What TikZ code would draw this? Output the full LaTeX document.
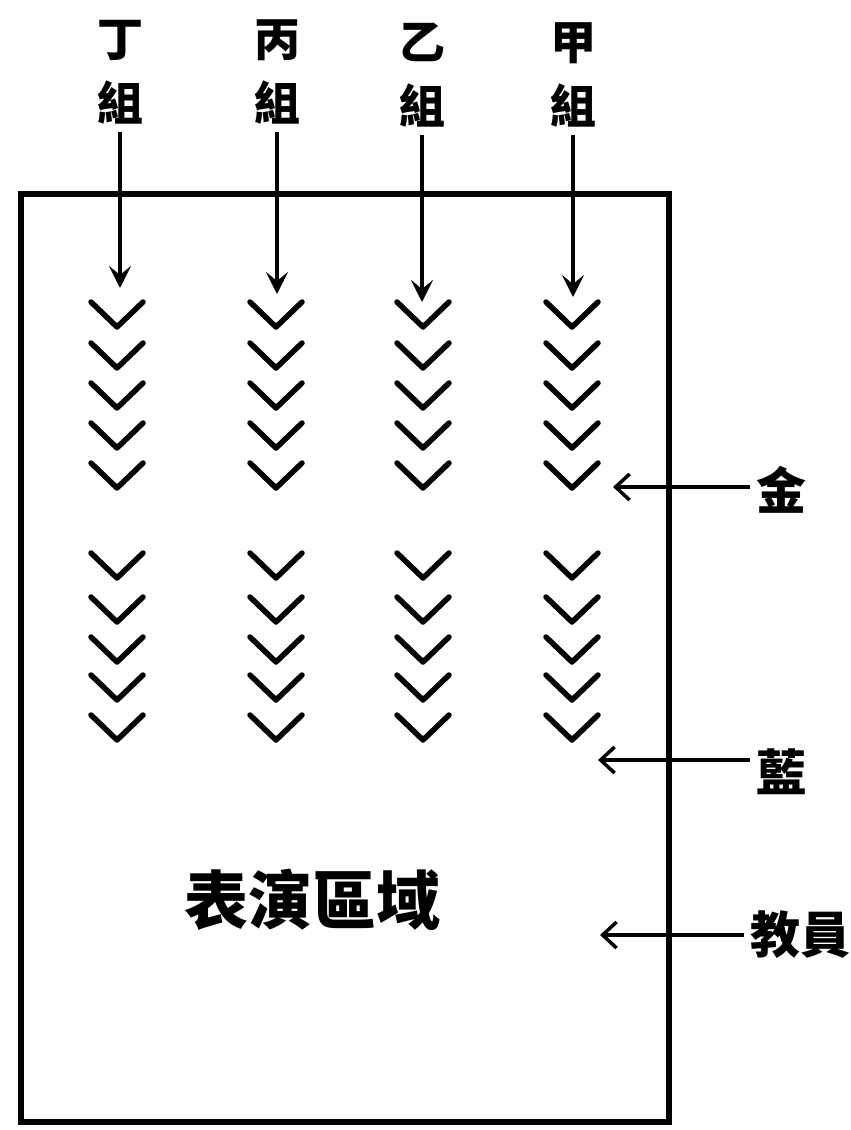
\documentclass[tikz,border=0pt]{standalone}
\usepackage{fontspec}
\newfontfamily\cjk{Noto Sans CJK TC}
\usetikzlibrary{arrows.meta}
\begin{document}
\begin{tikzpicture}[x=1pt,y=-1pt,
  grp/.style={font=\cjk\bfseries\fontsize{46}{64}\selectfont, inner sep=0pt, outer sep=8pt, align=center},
  sidelab/.style={font=\cjk\bfseries\fontsize{50}{56}\selectfont, inner sep=0pt, outer sep=6pt, anchor=west},
  area/.style={font=\cjk\bfseries\fontsize{64}{68}\selectfont, inner sep=0pt},
  frame/.style={line width=6pt, line join=miter},
  downarr/.style={line width=4pt, -{Stealth[length=22pt, width=22pt, inset=9pt]}},
  sidearr/.style={line width=3.5pt, -{Straight Barb[length=14pt, width=26pt]}},
  chev/.style={line width=5.5pt, line cap=round, line join=round}]
\useasboundingbox (0,0) rectangle (851,1130);
\fill[white] (0,0) rectangle (851,1130);
% frame of the performance area
\draw[frame] (21,194) rectangle (669,1122);
% group labels
\node[grp] (g4) at (120,72) {丁\\組};
\node[grp] (g3) at (277,72) {丙\\組};
\node[grp] (g2) at (422,75) {乙\\組};
\node[grp] (g1) at (573,75) {甲\\組};
\coordinate (t4) at (120,288);
\coordinate (t3) at (277,294);
\coordinate (t2) at (422,302);
\coordinate (t1) at (573,297);
\draw[downarr] (g4.south) -- (t4);
\draw[downarr] (g3.south) -- (t3);
\draw[downarr] (g2.south) -- (t2);
\draw[downarr] (g1.south) -- (t1);
% chevrons
\foreach \x in {117,276,423,572}{
  \foreach \y in {327,368,408,448,488,578,622,662,700,740}{
    \draw[chev] (\x-26,\y-25) -- (\x,\y) -- (\x+26,\y-25);
  }
}
% right side labels
\node[sidelab] (jin) at (750,490) {金};
\node[sidelab] (lan) at (750,772) {藍};
\node[sidelab] (jy) at (744,935) {教員};
\coordinate (aj) at (613,487);
\coordinate (al) at (598,760);
\coordinate (ay) at (600,935);
\draw[sidearr] (jin.west |- aj) -- (aj);
\draw[sidearr] (lan.west |- al) -- (al);
\draw[sidearr] (jy.west |- ay) -- (ay);
% area label
\node[area] (zone) at (312,900) {表演區域};
\end{tikzpicture}
\end{document}
